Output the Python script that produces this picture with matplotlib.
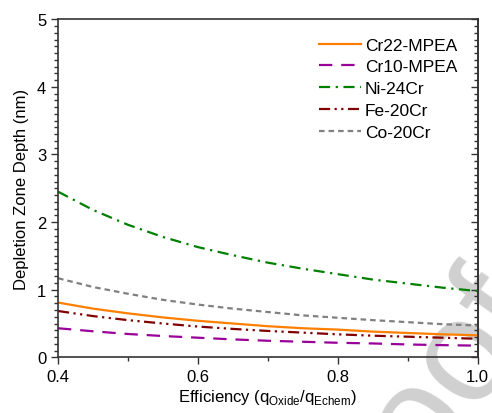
import numpy as np
import matplotlib
matplotlib.use('Agg')
import matplotlib.pyplot as plt
from matplotlib.ticker import MultipleLocator, FormatStrFormatter

plt.rcParams['font.family'] = ['Liberation Sans', 'DejaVu Sans']

# efficiency values (q_oxide / q_echem)
eff = [0.40, 0.45, 0.50, 0.55, 0.60, 0.65, 0.70, 0.75, 0.80, 0.85, 0.90, 0.95, 1.00]

# depletion zone depth (nm)
cr22_mpea = [0.81, 0.72, 0.65, 0.59, 0.54, 0.50, 0.46, 0.43, 0.41, 0.38, 0.36, 0.34, 0.325]
cr10_mpea = [0.43, 0.385, 0.345, 0.315, 0.29, 0.265, 0.245, 0.23, 0.215, 0.205, 0.19, 0.18, 0.173]
ni_24cr = [2.45, 2.18, 1.96, 1.78, 1.63, 1.51, 1.40, 1.31, 1.23, 1.15, 1.09, 1.03, 0.98]
fe_20cr = [0.685, 0.61, 0.55, 0.50, 0.455, 0.42, 0.39, 0.365, 0.34, 0.32, 0.305, 0.29, 0.274]
co_20cr = [1.17, 1.04, 0.94, 0.85, 0.78, 0.72, 0.67, 0.62, 0.585, 0.55, 0.52, 0.49, 0.47]

fig = plt.figure(figsize=(4.92, 4.14), dpi=100)
ax = fig.add_axes([0.118, 0.1345, 0.853, 0.8165])

lw = 1.6
ax.plot(eff, cr22_mpea, color='#ff7f00', lw=lw, ls='-', label='Cr22-MPEA')
ax.plot(eff, cr10_mpea, color='#990099', lw=lw, ls=(0, (6, 4)), label='Cr10-MPEA')
ax.plot(eff, ni_24cr, color='#008000', lw=lw, ls=(0, (5, 2.5, 1, 2.5)), label='Ni-24Cr')
ax.plot(eff, fe_20cr, color='#800000', lw=lw, ls=(0, (5, 2, 1, 2, 1, 2)), label='Fe-20Cr')
ax.plot(eff, co_20cr, color='#808080', lw=lw, ls=(0, (2.5, 1.8)), label='Co-20Cr')

ax.set_xlim(0.4, 1.0)
ax.set_ylim(0, 5)
ax.xaxis.set_major_locator(MultipleLocator(0.2))
ax.xaxis.set_minor_locator(MultipleLocator(0.1))
ax.xaxis.set_major_formatter(FormatStrFormatter('%.1f'))
ax.yaxis.set_major_locator(MultipleLocator(1))
ax.yaxis.set_minor_locator(MultipleLocator(0.1))
ax.tick_params(which='both', direction='out', top=False, right=False,
               labelsize=12, width=1.0, color='#333333')
ax.tick_params(which='major', length=5)
ax.tick_params(which='minor', length=3)

# right axis: same scale, ticks pointing inward, no labels
sec = ax.secondary_yaxis('right')
sec.yaxis.set_major_locator(MultipleLocator(1))
sec.yaxis.set_minor_locator(MultipleLocator(0.1))
sec.tick_params(which='both', direction='in', labelright=False, width=1.0, color='#333333')
sec.tick_params(which='major', length=5)
sec.tick_params(which='minor', length=3)

for s in list(ax.spines.values()) + list(sec.spines.values()):
    s.set_linewidth(1.2)
    s.set_color('#333333')

ax.set_xlabel('Efficiency (q$_{\\mathregular{Oxide}}$/q$_{\\mathregular{Echem}}$)', fontsize=12, labelpad=2)
ax.set_ylabel('Depletion Zone Depth (nm)', fontsize=12, labelpad=6)

ax.legend(loc='upper left', frameon=False, fontsize=12.5, handlelength=2.4,
          handletextpad=0.25, labelspacing=0.38, borderaxespad=0, borderpad=0,
          bbox_to_anchor=(0.622, 0.946))

# watermark
ax.text(1.11, 0.235, 'Journal Pre-proof', transform=fig.transFigure,
        fontsize=105, color='#d0d0d0', rotation=55, rotation_mode='anchor',
        ha='right', va='baseline', zorder=0, clip_on=False)

fig.savefig('out.png', dpi=100)
